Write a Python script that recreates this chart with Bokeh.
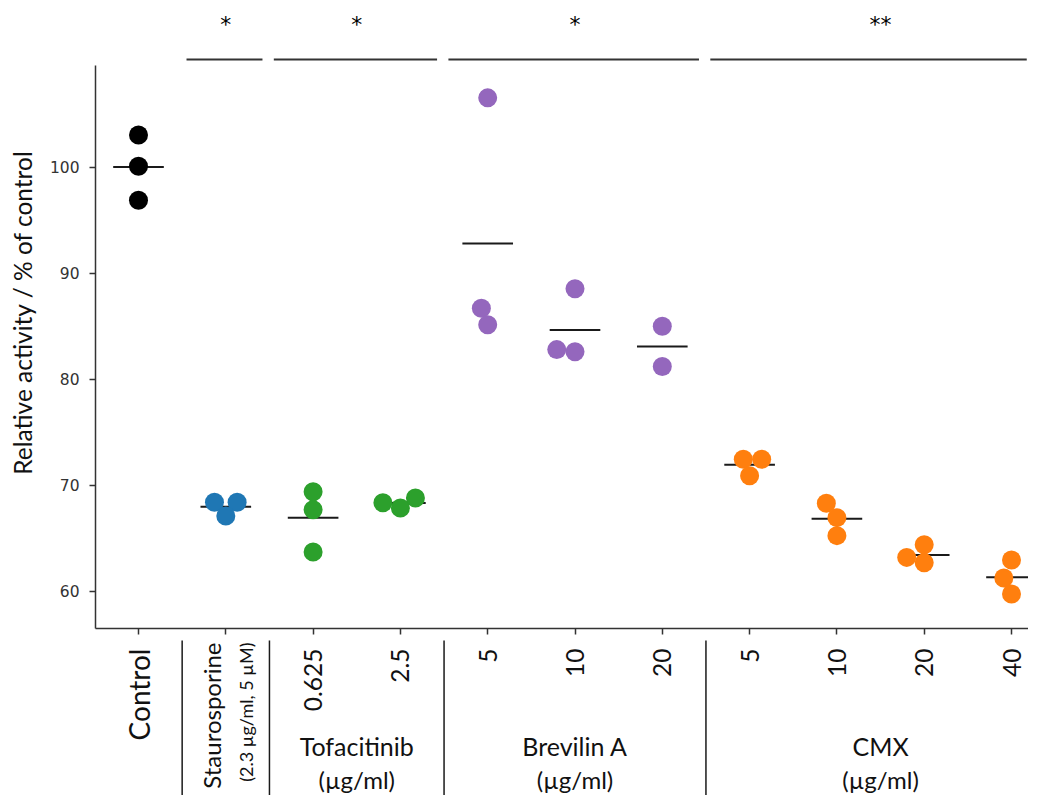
import numpy as np
from bokeh.plotting import figure
from bokeh.models import Range1d, FixedTicker
from bokeh.core.properties import value
from bokeh.embed import file_html
from bokeh.resources import INLINE

# ---------------- data ----------------
categories = ["Control", "Staurosporine", "0.625", "2.5", "5", "10", "20", "5", "10", "20", "40"]
control = [103.05, 100.1, 96.9]
staurosporine = [68.4, 68.4, 67.1]
tofa_0625 = [69.4, 67.7, 63.7]
tofa_25 = [68.35, 67.85, 68.8]
brev_5 = [106.55, 86.7, 85.15]
brev_10 = [88.55, 82.8, 82.6]
brev_20 = [85.0, 81.2]
cmx_5 = [72.45, 72.45, 70.9]
cmx_10 = [68.3, 66.95, 65.25]
cmx_20 = [64.4, 63.2, 62.7]
cmx_40 = [62.95, 61.25, 59.75]
series = [control, staurosporine, tofa_0625, tofa_25, brev_5, brev_10, brev_20,
          cmx_5, cmx_10, cmx_20, cmx_40]
colors = ["#000000", "#1f77b4", "#2ca02c", "#2ca02c", "#9467bd", "#9467bd", "#9467bd",
          "#ff7f0e", "#ff7f0e", "#ff7f0e", "#ff7f0e"]
groups = [("Staurosporine", 1, 1, "*"), ("Tofacitinib", 2, 3, "*"),
          ("Brevilin A", 4, 6, "*"), ("CMX", 7, 10, "**")]
unit_label = "(\u00b5g/ml)"
stauro_sub = "(2.3 \u00b5g/ml, 5 \u00b5M)"
y_ticks = [60, 70, 80, 90, 100]
y_title = "Relative activity / % of control"

# ---------------- layout ----------------
W, H = 1028, 795
X0 = -1.5808
X1 = X0 + 11.7755
Y1 = 115.736
Y0 = Y1 - 75.0
px_x = W / (X1 - X0)
px_y = H / (Y1 - Y0)
AXIS_X = -0.4926
AXIS_Y = 56.5
AXIS_TOP = 109.6
FONT = value("Lato")
INK = "#111111"


def swarm_offsets(vals, d_px=17.5):
    ys = np.asarray(vals, float) * px_y
    order = np.argsort(ys, kind="stable")
    placed = []
    xs = np.zeros(len(ys))
    for idx in order:
        y = ys[idx]
        neigh = [(nx, ny) for (nx, ny) in placed if abs(y - ny) < d_px]
        cands = [0.0]
        left_first = True
        for nx, ny in neigh:
            dx = np.sqrt(max(d_px ** 2 - (y - ny) ** 2, 0.0)) * 1.05
            cl, cr = nx - dx, nx + dx
            cands.extend([cl, cr] if left_first else [cr, cl])
            left_first = not left_first
        cands = sorted(cands, key=abs)
        x = cands[-1]
        for c in cands:
            if all(np.hypot(c - nx, y - ny) >= d_px - 1e-9 for nx, ny in neigh):
                x = c
                break
        placed.append((x, y))
        xs[idx] = x
    return xs / px_x


p = figure(width=W, height=H, x_range=Range1d(X0, X1), y_range=Range1d(Y0, Y1),
           output_backend="svg", toolbar_location=None,
           min_border_left=0, min_border_right=0, min_border_top=0, min_border_bottom=0)
p.outline_line_color = None
p.xgrid.visible = False
p.ygrid.visible = False
p.background_fill_color = "white"
p.border_fill_color = "white"

# axes
p.yaxis.fixed_location = AXIS_X
p.yaxis.bounds = (AXIS_Y, AXIS_TOP)
p.yaxis.ticker = FixedTicker(ticks=y_ticks)
p.yaxis.minor_tick_line_color = None
p.yaxis.major_tick_in = 0
p.yaxis.major_tick_out = 6
p.yaxis.major_label_text_font = "DejaVu Sans"
p.yaxis.major_label_text_font_size = "15.5px"
p.yaxis.major_label_text_color = "#333333"
p.yaxis.major_label_standoff = 10

p.xaxis.fixed_location = AXIS_Y
p.xaxis.bounds = (AXIS_X, X1)
p.xaxis.ticker = FixedTicker(ticks=list(range(len(categories))))
p.xaxis.major_label_overrides = {i: "" for i in range(len(categories))}
p.xaxis.minor_tick_line_color = None
p.xaxis.major_tick_in = 0
p.xaxis.major_tick_out = 6

for ax in (p.xaxis, p.yaxis):
    ax.axis_line_color = "#333333"
    ax.axis_line_width = 1.5
    ax.major_tick_line_color = "#333333"
    ax.major_tick_line_width = 1.5

# mean lines
means = [float(np.mean(s)) for s in series]
idx = np.arange(len(series))
p.segment(x0=idx - 0.29, x1=idx + 0.29, y0=means, y1=means, line_color="#1a1a1a", line_width=2)

# points
px, py, pc = [], [], []
for i, (s, c) in enumerate(zip(series, colors)):
    offs = swarm_offsets(s)
    px.extend(i + offs)
    py.extend(s)
    pc.extend([c] * len(s))
p.scatter(x=px, y=py, size=19, fill_color=pc, line_color=None)

# category labels (rotated)
lab_y = 54.6
p.text(x=[0], y=[lab_y], text=[categories[0]],
       angle=np.pi / 2, text_align="right", text_baseline="middle",
       text_font=FONT, text_font_size="28px", text_color=INK)
nums = list(range(2, len(categories)))
p.text(x=nums, y=[lab_y] * len(nums), text=[categories[i] for i in nums],
       angle=np.pi / 2, text_align="right", text_baseline="middle",
       text_font=FONT, text_font_size="24.5px", text_color=INK)
p.text(x=[1], y=[55.17], text=[categories[1]], x_offset=-14,
       angle=np.pi / 2, text_align="right", text_baseline="middle",
       text_font=FONT, text_font_size="24px", text_color=INK)
p.text(x=[1], y=[55.17], text=[stauro_sub], x_offset=20,
       angle=np.pi / 2, text_align="right", text_baseline="middle",
       text_font=FONT, text_font_size="18px", text_color=INK)

# group separators below axis
sep_x = [g[1] - 0.5 for g in groups]
p.segment(x0=sep_x, x1=sep_x, y0=[55.36] * len(sep_x), y1=[Y0] * len(sep_x),
          line_color="#1a1a1a", line_width=1.5)

# group labels
multi = [g for g in groups if g[2] > g[1]]
gx = [(g[1] + g[2]) / 2 for g in multi]
p.text(x=gx, y=[45.45] * len(gx), text=[g[0] for g in multi],
       text_align="center", text_baseline="middle",
       text_font=FONT, text_font_size="25px", text_color=INK)
p.text(x=gx, y=[42.26] * len(gx), text=[unit_label] * len(gx),
       text_align="center", text_baseline="middle",
       text_font=FONT, text_font_size="24px", text_color=INK)

# significance bars
bx0 = [g[1] - 0.45 for g in groups]
bx1 = [min(g[2] + 0.42, X1 - 0.02) for g in groups]
p.segment(x0=bx0, x1=bx1, y0=[110.17] * len(groups), y1=[110.17] * len(groups),
          line_color="#333333", line_width=2)
p.text(x=[(g[1] + g[2]) / 2 for g in groups], y=[113.47] * len(groups),
       text=[g[3] for g in groups], text_align="center", text_baseline="middle",
       text_font=value("DejaVu Sans"), text_font_size="22px", text_color="black")

# y axis title
p.text(x=[-1.329], y=[86.3], text=[y_title], angle=np.pi / 2,
       text_align="center", text_baseline="middle",
       text_font=FONT, text_font_size="24.5px", text_color=INK)

open("out.html", "w").write(file_html(p, INLINE))
